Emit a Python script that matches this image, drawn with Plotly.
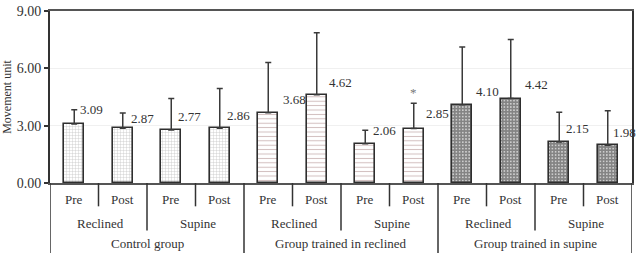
import plotly.graph_objects as go

# ---- data ----
phases = ["Pre", "Post", "Pre", "Post", "Pre", "Post", "Pre", "Post", "Pre", "Post", "Pre", "Post"]
positions = ["Reclined", "Supine", "Reclined", "Supine", "Reclined", "Supine"]
groups = ["Control group", "Group trained in reclined", "Group trained in supine"]
values = [3.09, 2.87, 2.77, 2.86, 3.68, 4.62, 2.06, 2.85, 4.10, 4.42, 2.15, 1.98]
errors = [0.74, 0.79, 1.65, 2.09, 2.62, 3.24, 0.70, 1.32, 3.02, 3.09, 1.55, 1.80]
value_labels = ["3.09", "2.87", "2.77", "2.86", "3.68", "4.62", "2.06", "2.85", "4.10", "4.42", "2.15", "1.98"]
significant = [False, False, False, False, False, False, False, True, False, False, False, False]
y_ticks = [0, 3, 6, 9]
y_ticktext = ["0.00", "3.00", "6.00", "9.00"]

# ---- styles ----
FONT = "Times New Roman, Liberation Serif, serif"
TXT = "#333333"
label_dx = [4, 6, 5, 5, 13, 10, 6, 10, 12, 12, 5, 3]      # px shifts of value labels
label_dy = [14, 10, 14, 13, 13, 12, 13, 15, 13, 14, 13, 13]
group_patterns = [
    dict(shape="+", size=3, solidity=0.25, fgcolor="#8a8a8a", bgcolor="white"),
    dict(shape="-", size=4.4, solidity=0.22, fgcolor="#a07878", bgcolor="white"),
    dict(shape="+", size=3.2, solidity=0.85, fgcolor="#0a0a0a", bgcolor="white"),
]

fig = go.Figure()
xs = list(range(len(values)))
for g in range(3):
    idx = xs[g * 4:(g + 1) * 4]
    fig.add_trace(go.Bar(
        x=idx, y=[values[i] for i in idx], width=0.41,
        marker=dict(color="white", line=dict(color="#2e2e2e", width=1.6),
                    pattern=group_patterns[g]),
        error_y=dict(type="data", symmetric=False, array=[errors[i] for i in idx],
                     arrayminus=[0] * len(idx), color="#3a3a3a", thickness=1.5, width=3),
        showlegend=False, hoverinfo="skip",
    ))

ann = []
for i, v in enumerate(values):
    ann.append(dict(x=i, y=v, xref="x", yref="y", text=value_labels[i], showarrow=False,
                    xanchor="left", yanchor="middle", xshift=label_dx[i], yshift=label_dy[i],
                    font=dict(family=FONT, size=13, color=TXT)))
    if significant[i]:
        ann.append(dict(x=i, y=v + errors[i], xref="x", yref="y", text="*", showarrow=False,
                        xanchor="center", yanchor="bottom", yshift=1,
                        font=dict(family=FONT, size=13, color="#777777")))

# bottom category table
ph = 177.0  # plot height in px
def py(px_below):
    return -px_below / ph

shapes = []
n = len(values)
for i in range(n + 1):
    b = i - 0.5
    if i % 4 == 0:
        y1 = py(72)
    elif i % 2 == 0:
        y1 = py(49)
    else:
        y1 = py(24)
    shapes.append(dict(type="line", xref="x", yref="paper", x0=b, x1=b, y0=0, y1=y1,
                       line=dict(color="#333333", width=1.5)))

for i, p in enumerate(phases):
    ann.append(dict(x=i, y=py(17), xref="x", yref="paper", text=p, showarrow=False,
                    xanchor="center", yanchor="middle", font=dict(family=FONT, size=13, color=TXT)))
for j, p in enumerate(positions):
    ann.append(dict(x=2 * j + 0.55, y=py(42), xref="x", yref="paper", text=p, showarrow=False,
                    xanchor="center", yanchor="middle", font=dict(family=FONT, size=13, color=TXT)))
for k, g in enumerate(groups):
    ann.append(dict(x=4 * k + 1.5, y=py(62), xref="x", yref="paper", text=g, showarrow=False,
                    xanchor="center", yanchor="middle", font=dict(family=FONT, size=13, color=TXT)))

fig.update_layout(
    width=638, height=253,
    margin=dict(l=49, r=4, t=6, b=70),
    paper_bgcolor="white", plot_bgcolor="white",
    bargap=0,
    annotations=ann, shapes=shapes,
    xaxis=dict(range=[-0.5, n - 0.5], showticklabels=False, ticks="", showgrid=False,
               zeroline=False, showline=True, mirror=True, linecolor="#555555", linewidth=1.5),
    yaxis=dict(range=[0, 9], tickvals=y_ticks, ticktext=y_ticktext, ticks="outside",
               ticklen=4, tickcolor="#333333", tickwidth=1.5, ticklabeloverflow="allow",
               showgrid=True, gridcolor="#f0f0f0", gridwidth=1,
               zeroline=False, showline=True, mirror=True, linecolor="#333333", linewidth=2,
               tickfont=dict(family=FONT, size=14, color=TXT),
               title=dict(text="Movement unit", standoff=4,
                          font=dict(family=FONT, size=12, color=TXT))),
)

fig.write_html("out.html")
